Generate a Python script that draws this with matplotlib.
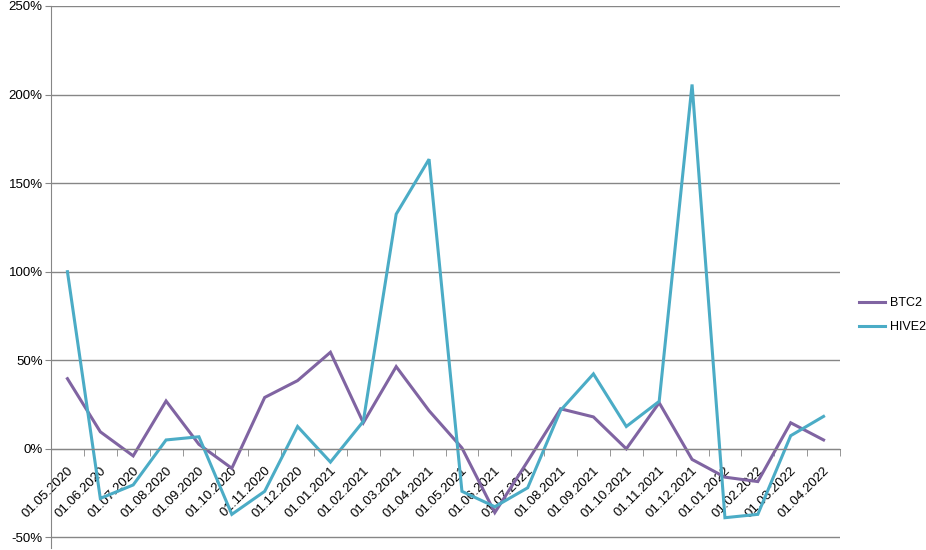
import matplotlib.pyplot as plt
from matplotlib.ticker import FixedLocator, FuncFormatter
from matplotlib.transforms import ScaledTranslation

plt.rcParams['font.family'] = ['Liberation Sans', 'DejaVu Sans']

# данные
months = ["01.05.2020", "01.06.2020", "01.07.2020", "01.08.2020", "01.09.2020",
          "01.10.2020", "01.11.2020", "01.12.2020", "01.01.2021", "01.02.2021",
          "01.03.2021", "01.04.2021", "01.05.2021", "01.06.2021", "01.07.2021",
          "01.08.2021", "01.09.2021", "01.10.2021", "01.11.2021", "01.12.2021",
          "01.01.2022", "01.02.2022", "01.03.2022", "01.04.2022"]
btc2 = [39.6, 9.6, -4.0, 27.0, 2.5, -11.0, 29.0, 38.5, 54.5, 14.7, 46.4, 21.5,
        0.5, -36.0, -7.0, 22.6, 18.0, 0.0, 26.0, -6.0, -16.0, -18.5, 14.7, 5.0]
hive2 = [100.0, -28.0, -20.4, 5.0, 6.8, -37.0, -24.0, 12.6, -7.5, 15.5, 132.5, 163.5,
         -24.0, -32.7, -22.0, 21.7, 42.3, 12.6, 26.8, 205.7, -38.9, -37.0, 7.4, 18.3]
y_ticks = [-50, 0, 50, 100, 150, 200, 250]

grey = '#868686'

fig = plt.figure(figsize=(9.26, 5.5), dpi=100)
ax = fig.add_axes([51 / 926, 2 / 550, (840 - 51) / 926, 542 / 550])

x = list(range(len(months)))
ax.plot(x, btc2, color='#8064A2', lw=2.2, label='BTC2', solid_joinstyle='miter')
ax.plot(x, hive2, color='#4BACC6', lw=2.2, label='HIVE2', solid_joinstyle='miter')

ax.set_xlim(-0.5, len(months) - 0.5)
ax.set_ylim(-56, 250)
ax.set_yticks(y_ticks)
ax.yaxis.set_major_formatter(FuncFormatter(lambda v, p: f"{v:.0f}%"))
ax.grid(axis='y', color=grey, lw=1)
ax.set_axisbelow(True)

for s in ['top', 'right']:
    ax.spines[s].set_visible(False)
ax.spines['left'].set_color(grey)
ax.spines['bottom'].set_color(grey)
ax.spines['bottom'].set_position(('data', 0))

ax.set_xticks(x)
ax.set_xticklabels(months, rotation=45, ha='right', va='top', fontsize=9.5)
ax.xaxis.set_minor_locator(FixedLocator([i - 0.5 for i in range(len(months) + 1)]))
ax.tick_params(axis='x', which='major', length=0, pad=9)
ax.tick_params(axis='x', which='minor', length=5, color=grey)
ax.tick_params(axis='y', length=4, color=grey, labelsize=9.5, pad=2)

# сдвиг подписей как в Excel
shift = ScaledTranslation(8 / 100, -3 / 100, fig.dpi_scale_trans)
for lab in ax.get_xticklabels():
    lab.set_transform(lab.get_transform() + shift)

fig.legend(loc='upper left', bbox_to_anchor=(859 / 926, 1 - 297 / 550), frameon=False,
           fontsize=9, handlelength=2.1, handletextpad=0.35, labelspacing=1.0,
           borderpad=0, borderaxespad=0)

fig.savefig('out.png', dpi=100)
